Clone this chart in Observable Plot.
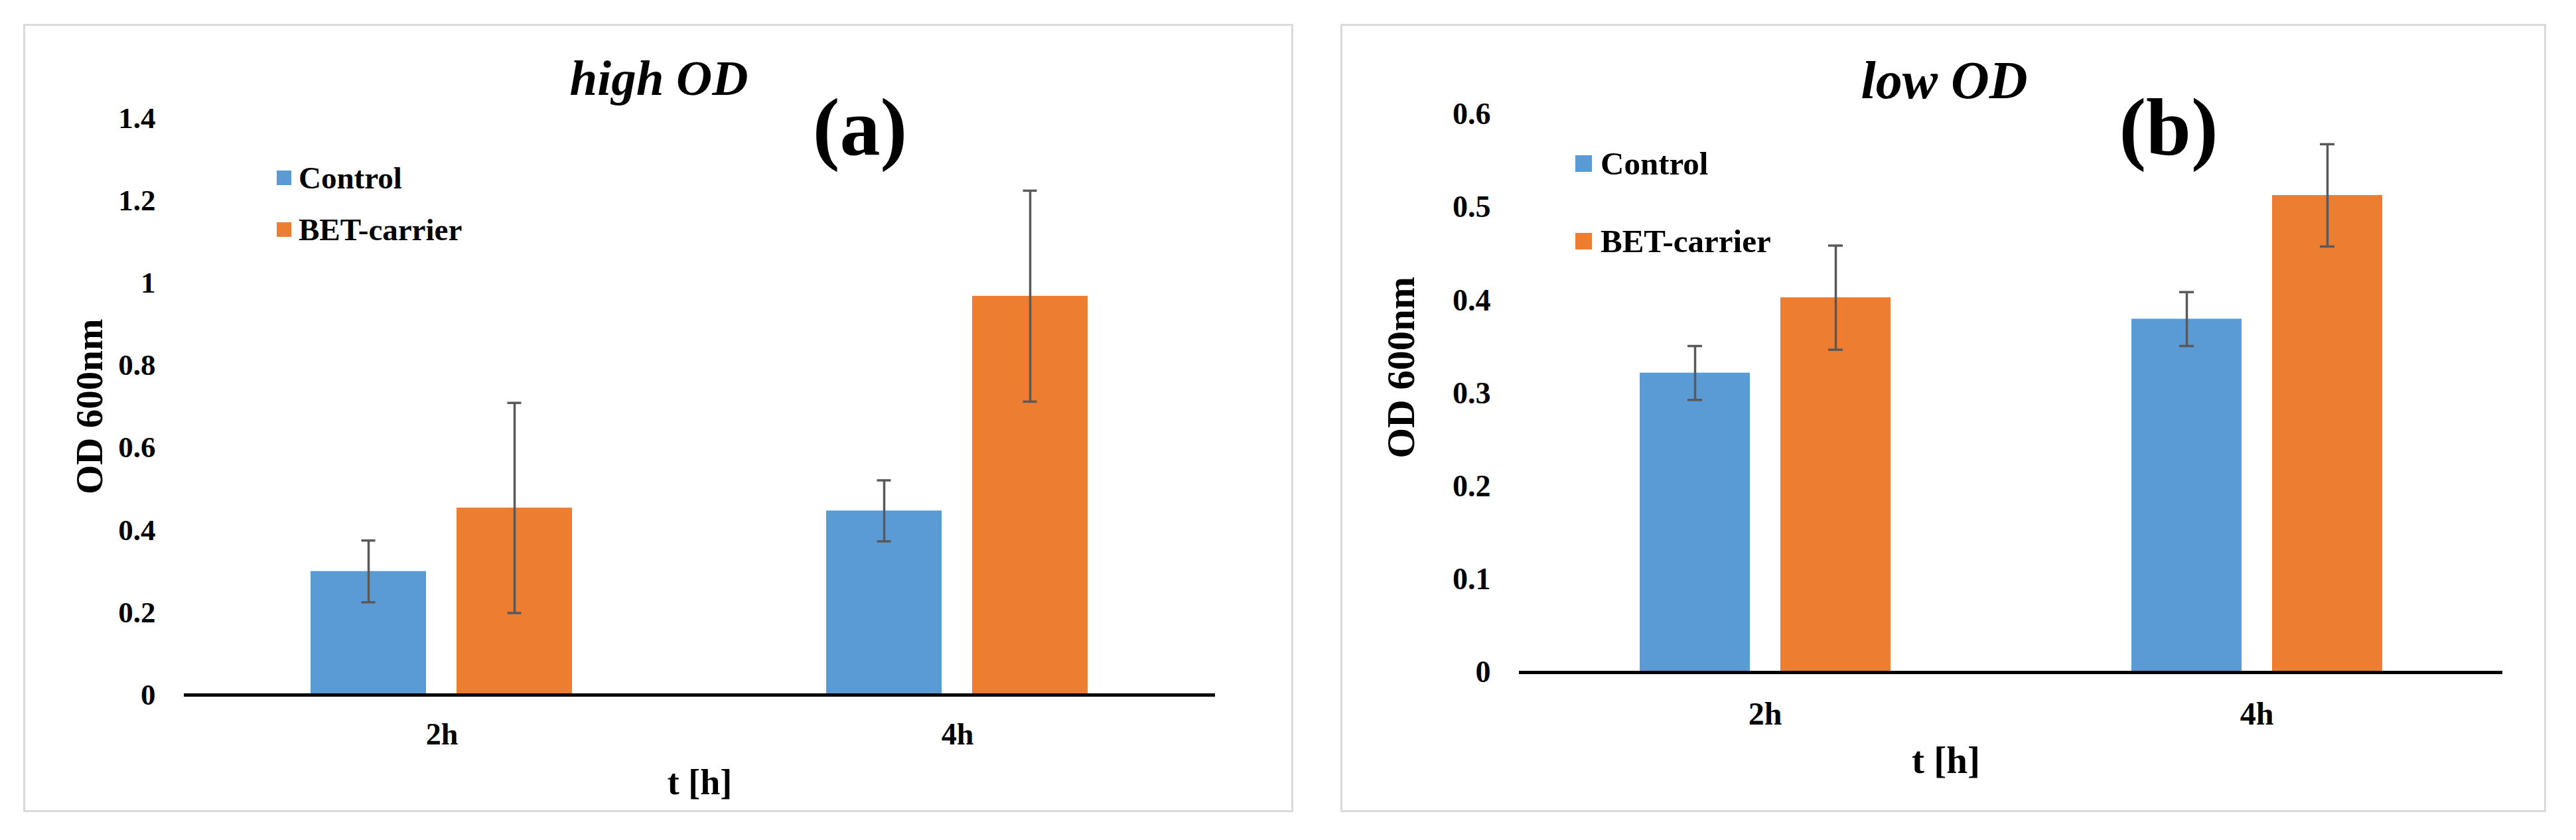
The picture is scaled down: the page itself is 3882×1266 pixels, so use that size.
<!DOCTYPE html>
<html>
<head>
<meta charset="utf-8">
<script src="https://cdn.jsdelivr.net/npm/d3@7"></script>
<script src="https://cdn.jsdelivr.net/npm/@observablehq/plot@0.6"></script>
<style>
  html, body { margin: 0; padding: 0; background: #ffffff; }
  #root { position: relative; width: 3882px; height: 1266px; background: #ffffff; overflow: hidden;
          font-family: "Liberation Serif", "Times New Roman", serif; font-weight: bold; color: #000; }
  .frame { position: absolute; box-sizing: border-box; border: 3px solid #dadada; }
  .abs { position: absolute; white-space: nowrap; line-height: 1; }
  .plotbox { position: absolute; }
  .sw { position: absolute; }
</style>
</head>
<body>
<div id="root"></div>
<script>
// ---------- data ----------
const times = ["2h", "4h"];
const series = ["Control", "BET-carrier"];
const colors = ["#5B9BD5", "#ED7D31"];

// (a) high OD
const highControl    = [0.300, 0.447];
const highControlErr = [0.075, 0.074];
const highBET        = [0.454, 0.968];
const highBETErr     = [0.255, 0.256];
const highTicks      = [0, 0.2, 0.4, 0.6, 0.8, 1.0, 1.2, 1.4];

// (b) low OD
const lowControl     = [0.322, 0.380];
const lowControlErr  = [0.029, 0.029];
const lowBET         = [0.403, 0.513];
const lowBETErr      = [0.056, 0.055];
const lowTicks       = [0, 0.1, 0.2, 0.3, 0.4, 0.5, 0.6];

const yLabel = "OD 600nm";
const xLabel = "t [h]";

function rowsOf(ctrl, ctrlErr, bet, betErr) {
  const rows = [];
  times.forEach((t, i) => {
    rows.push({t, s: series[0], v: ctrl[i], e: ctrlErr[i]});
    rows.push({t, s: series[1], v: bet[i], e: betErr[i]});
  });
  return rows;
}

const fmt = d => String(+d.toFixed(2));

function makePanel(o) {
  const rows = o.rows;
  return Plot.plot({
    width: o.width, height: o.height,
    marginTop: o.mt, marginBottom: o.mb, marginLeft: o.ml, marginRight: o.mr,
    style: {fontFamily: '"Liberation Serif", "Times New Roman", serif', fontWeight: "bold", color: "#000", background: "transparent", overflow: "visible"},
    fx: {domain: times, padding: 0},
    x: {domain: series, paddingInner: o.pi, paddingOuter: o.po, axis: null},
    y: {domain: [0, o.ticks[o.ticks.length - 1]], axis: null},
    color: {domain: series, range: colors},
    marks: [
      Plot.barY(rows, {fx: "t", x: "s", y: "v", fill: "s"}),
      Plot.ruleX(rows, {fx: "t", x: "s", y1: d => d.v - d.e, y2: d => d.v + d.e, stroke: "#595959", strokeWidth: 3.5}),
      Plot.tickY(rows, {fx: "t", x: "s", y: d => d.v - d.e, stroke: "#595959", strokeWidth: 3.5, insetLeft: o.cap, insetRight: o.cap}),
      Plot.tickY(rows, {fx: "t", x: "s", y: d => d.v + d.e, stroke: "#595959", strokeWidth: 3.5, insetLeft: o.cap, insetRight: o.cap}),
      Plot.ruleY([0], {stroke: "#000", strokeWidth: 5}),
      Plot.axisY({ticks: o.ticks, tickFormat: fmt, tickSize: 0, tickPadding: 43, fontSize: o.tickFs, label: null}),
      Plot.axisFx({anchor: "bottom", tickSize: 0, tickPadding: o.fxPad, fontSize: o.fxFs, label: null}),
      Plot.text([yLabel], {fx: () => times[0], frameAnchor: "left", rotate: -90, textAnchor: "middle", lineAnchor: "middle",
                           dx: o.ylDx, dy: o.ylDy, fontSize: o.ylFs, fontWeight: "bold"}),
      Plot.text([xLabel], {fx: () => times[0], frameAnchor: "bottom-right", textAnchor: "middle", lineAnchor: "middle",
                           dx: o.xlDx, dy: o.xlDy, fontSize: o.xlFs, fontWeight: "bold"})
    ]
  });
}

const root = document.getElementById("root");

function addFrame(left, top, w, h) {
  const f = document.createElement("div");
  f.className = "frame";
  Object.assign(f.style, {left: left + "px", top: top + "px", width: w + "px", height: h + "px"});
  root.appendChild(f);
}
function addText(txt, cx, baseline, fs, italic) {
  const d = document.createElement("div");
  d.className = "abs";
  d.textContent = txt;
  Object.assign(d.style, {left: cx + "px", top: (baseline - 0.8375 * fs) + "px", fontSize: fs + "px",
    transform: "translateX(-50%)", fontStyle: italic ? "italic" : "normal"});
  root.appendChild(d);
}
function addLegend(x, cys, size, textX, fs) {
  series.forEach((s, i) => {
    const sw = document.createElement("div");
    sw.className = "sw";
    Object.assign(sw.style, {left: x + "px", top: (cys[i] - size / 2) + "px", width: size + "px", height: size + "px", background: colors[i]});
    root.appendChild(sw);
    const t = document.createElement("div");
    t.className = "abs";
    t.textContent = s;
    Object.assign(t.style, {left: textX + "px", top: (cys[i] - fs / 2) + "px", fontSize: fs + "px"});
    root.appendChild(t);
  });
}
function addPlot(svg, left, top) {
  const box = document.createElement("div");
  box.className = "plotbox";
  Object.assign(box.style, {left: left + "px", top: top + "px"});
  box.appendChild(svg);
  root.appendChild(box);
}

// ---------- panel (a) ----------
addFrame(35, 36, 1914, 1188);
addPlot(makePanel({
  rows: rowsOf(highControl, highControlErr, highBET, highBETErr),
  width: 1914, height: 1188, mt: 141.6, mb: 177, ml: 241, mr: 118,
  pi: 0.208, po: 0.863, cap: 76.5, ticks: highTicks, tickFs: 45,
  fxPad: 42, fxFs: 46, ylDx: -142, ylDy: 0, ylFs: 57, xlDx: 0, xlDy: 132, xlFs: 54
}), 35, 36);
addText("high OD", 993, 143, 75, true);
addText("(a)", 1296, 233, 122, false);
addLegend(417, [268, 346], 22, 450, 47);

// ---------- panel (b) ----------
addFrame(2020, 36, 1817, 1188);
addPlot(makePanel({
  rows: rowsOf(lowControl, lowControlErr, lowBET, lowBETErr),
  width: 1817, height: 1188, mt: 136, mb: 211, ml: 269, mr: 66,
  pi: 0.217, po: 0.856, cap: 72, ticks: lowTicks, tickFs: 46,
  fxPad: 44, fxFs: 48, ylDx: -177, ylDy: -39, ylFs: 59, xlDx: -98, xlDy: 133, xlFs: 57
}), 2020, 36);
addText("low OD", 2930, 148, 80, true);
addText("(b)", 3268, 233, 122, false);
addLegend(2374, [246, 363], 25, 2412, 49);
</script>
</body>
</html>
